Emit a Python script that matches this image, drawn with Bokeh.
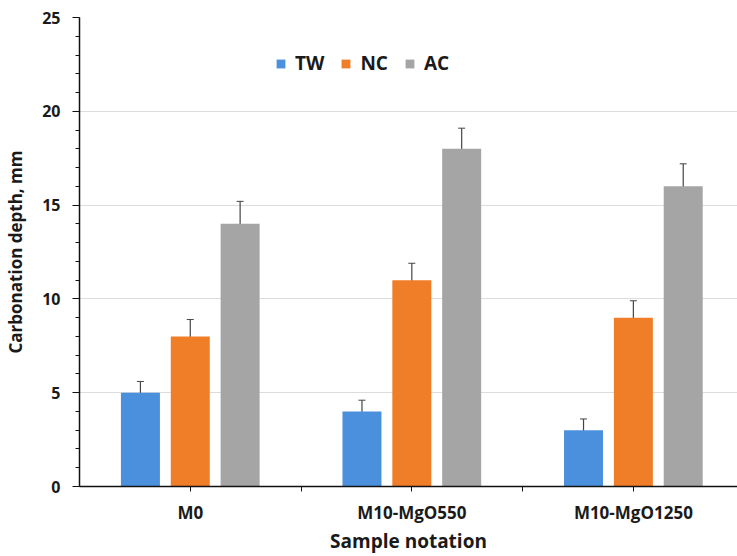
from bokeh.plotting import figure
from bokeh.models import ColumnDataSource, Range1d, FixedTicker, Whisker, Legend, LegendItem
from bokeh.transform import dodge
from bokeh.embed import file_html
from bokeh.resources import INLINE

samples = ["M0", "M10-MgO550", "M10-MgO1250"]
sample_pos = [1, 2, 3]
tw = [5, 4, 3]
nc = [8, 11, 9]
ac = [14, 18, 16]
tw_err = [0.6, 0.6, 0.6]
nc_err = [0.9, 0.9, 0.9]
ac_err = [1.2, 1.1, 1.2]
series = ["TW", "NC", "AC"]
colors = ["#4a90dc", "#f07d28", "#a5a5a5"]

src = ColumnDataSource(dict(
    x=sample_pos, tw=tw, nc=nc, ac=ac,
    tw_lo=[v - e for v, e in zip(tw, tw_err)], tw_hi=[v + e for v, e in zip(tw, tw_err)],
    nc_lo=[v - e for v, e in zip(nc, nc_err)], nc_hi=[v + e for v, e in zip(nc, nc_err)],
    ac_lo=[v - e for v, e in zip(ac, ac_err)], ac_hi=[v + e for v, e in zip(ac, ac_err)],
))

FONT = "Open Sans"
p = figure(width=737, height=556, output_backend="svg", toolbar_location=None,
           x_range=Range1d(0.5, 3.47), y_range=Range1d(0, 25),
           min_border_left=79, min_border_right=0, min_border_top=17, min_border_bottom=70)
p.outline_line_color = None
p.background_fill_color = "white"

offsets = [-0.225, 0.0, 0.225]
keys = ["tw", "nc", "ac"]
renderers = []
for k, off, c in zip(keys, offsets, colors):
    r = p.vbar(x=dodge("x", off, range=p.x_range), top=k, width=0.176, source=src,
               fill_color=c, line_color=None)
    renderers.append(r)
    w = Whisker(base=dodge("x", off, range=p.x_range), lower=k + "_lo", upper=k + "_hi",
                source=src, line_color="#454545", line_width=1.2)
    w.upper_head.size = 7
    w.lower_head.size = 7
    w.upper_head.line_color = "#454545"
    w.lower_head.line_color = "#454545"
    p.add_layout(w)

legend = Legend(items=[LegendItem(label=s, renderers=[r]) for s, r in zip(series, renderers)],
                orientation="horizontal", location=(196, 410),
                glyph_width=11, glyph_height=11, label_standoff=9, spacing=16,
                padding=0, border_line_color=None, background_fill_alpha=0,
                label_text_font=FONT, label_text_font_style="bold",
                label_text_font_size="19px", label_text_color="#1a1a1a")
p.add_layout(legend)

# y axis
p.yaxis.ticker = FixedTicker(ticks=[0, 5, 10, 15, 20, 25],
                             minor_ticks=[i for i in range(0, 26)])
p.yaxis.axis_label = "Carbonation depth, mm"
p.yaxis.axis_label_text_font = FONT
p.yaxis.axis_label_text_font_style = "bold"
p.yaxis.axis_label_text_font_size = "17px"
p.yaxis.axis_label_text_color = "#1a1a1a"
p.yaxis.axis_label_standoff = 12
p.yaxis.major_label_text_font = FONT
p.yaxis.major_label_text_font_style = "bold"
p.yaxis.major_label_text_font_size = "16px"
p.yaxis.major_label_text_color = "#1a1a1a"
p.yaxis.major_label_standoff = 12
p.yaxis.major_tick_out = 7
p.yaxis.major_tick_in = 0
p.yaxis.minor_tick_out = 4
p.yaxis.minor_tick_in = 0
p.yaxis.axis_line_color = "#111111"
p.yaxis.axis_line_width = 1.5
p.yaxis.major_tick_line_color = "#111111"
p.yaxis.minor_tick_line_color = "#111111"

# x axis
p.xaxis.ticker = FixedTicker(ticks=[1, 1.5, 2, 2.5, 3], minor_ticks=[])
p.xaxis.major_label_overrides = {1: samples[0], 1.5: "", 2: samples[1], 2.5: "", 3: samples[2]}
p.xaxis.axis_label = "Sample notation"
p.xaxis.axis_label_text_font = FONT
p.xaxis.axis_label_text_font_style = "bold"
p.xaxis.axis_label_text_font_size = "19px"
p.xaxis.axis_label_text_color = "#1a1a1a"
p.xaxis.axis_label_standoff = 1
p.xaxis.major_label_text_font = FONT
p.xaxis.major_label_text_font_style = "bold"
p.xaxis.major_label_text_font_size = "17px"
p.xaxis.major_label_text_color = "#1a1a1a"
p.xaxis.major_label_standoff = 9
p.xaxis.major_tick_out = 5
p.xaxis.major_tick_in = 0
p.xaxis.minor_tick_out = 0
p.xaxis.axis_line_color = "#111111"
p.xaxis.axis_line_width = 1.5
p.xaxis.major_tick_line_color = "#111111"

p.xgrid.grid_line_color = None
p.ygrid.grid_line_color = "#dcdcdc"
p.ygrid.grid_line_width = 1

open("out.html", "w").write(file_html(p, INLINE))
